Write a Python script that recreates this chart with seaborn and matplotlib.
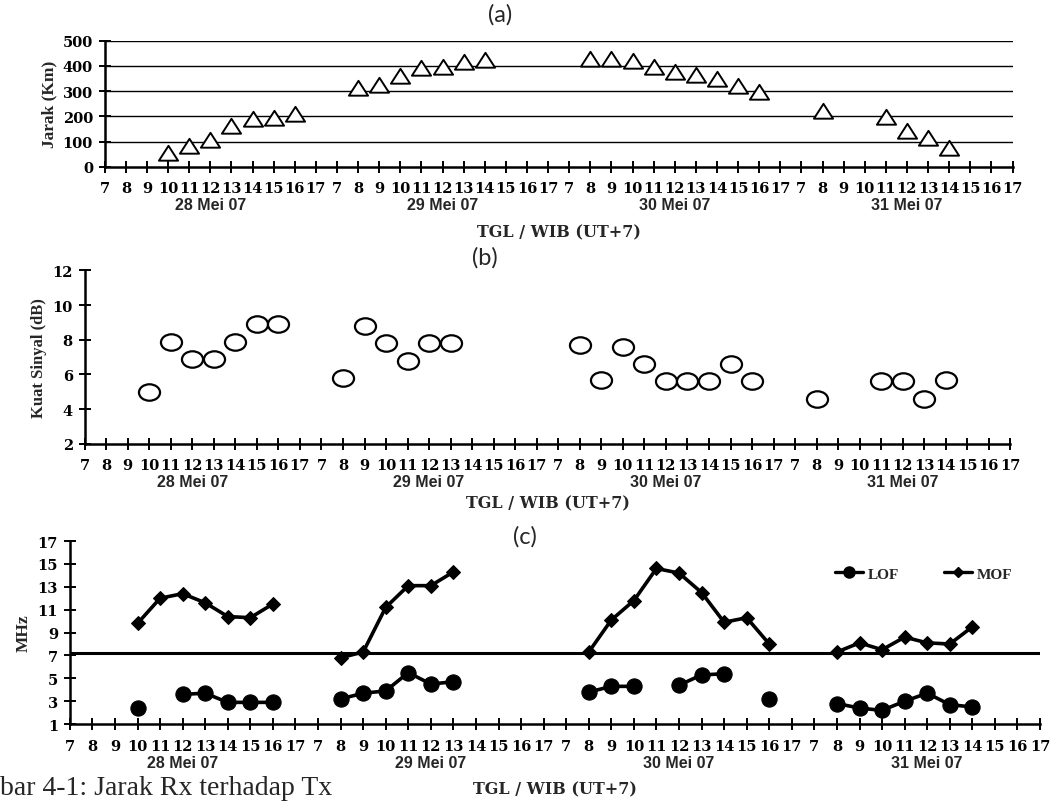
import numpy as np
import pandas as pd
import matplotlib.pyplot as plt
from matplotlib.lines import Line2D
from matplotlib.path import Path
import seaborn as sns

# Sumbu waktu: jam 7..17 untuk tiap tanggal
JAM = list(range(7, 18))
TANGGAL = ['28 Mei 07', '29 Mei 07', '30 Mei 07', '31 Mei 07']

# (a) Jarak (Km)
jarak_jam = [[10, 11, 12, 13, 14, 15, 16],
             [8, 9, 10, 11, 12, 13, 14],
             [8, 9, 10, 11, 12, 13, 14, 15, 16],
             [8, 11, 12, 13, 14]]
jarak_km = [[55, 84, 106, 161, 188, 195, 210],
            [311, 326, 360, 393, 395, 415, 424],
            [429, 426, 420, 397, 375, 363, 347, 322, 297],
            [223, 199, 143, 116, 75]]

# (b) Kuat sinyal (dB)
sinyal_jam = [[10, 11, 12, 13, 14, 15, 16],
              [8, 9, 10, 11, 12, 13],
              [8, 9, 10, 11, 12, 13, 14, 15, 16],
              [8, 11, 12, 13, 14]]
sinyal_db = [[5.0, 7.9, 6.9, 6.9, 7.9, 8.9, 8.9],
             [5.8, 8.8, 7.8, 6.8, 7.8, 7.8],
             [7.7, 5.7, 7.6, 6.6, 5.6, 5.6, 5.6, 6.6, 5.6],
             [4.6, 5.6, 5.6, 4.6, 5.7]]

# (c) MOF dan LOF (MHz); tiap sub-list adalah satu ruas garis
mof_jam = [[10, 11, 12, 13, 14, 15, 16],
           [8, 9, 10, 11, 12, 13],
           [8, 9, 10, 11, 12, 13, 14, 15, 16],
           [8, 9, 10, 11, 12, 13, 14]]
mof_mhz = [[9.8, 12.0, 12.4, 11.6, 10.4, 10.3, 11.5],
           [6.8, 7.3, 11.2, 13.1, 13.1, 14.3],
           [7.3, 10.1, 11.8, 14.6, 14.2, 12.5, 9.9, 10.3, 8.0],
           [7.3, 8.1, 7.5, 8.6, 8.1, 8.0, 9.5]]

lof_hari = [0, 0, 1, 2, 2, 2, 3]
lof_jam = [[10], [12, 13, 14, 15, 16],
           [8, 9, 10, 11, 12, 13],
           [8, 9, 10], [12, 13, 14], [16],
           [8, 9, 10, 11, 12, 13, 14]]
lof_mhz = [[2.4], [3.6, 3.7, 2.9, 2.9, 2.9],
           [3.2, 3.7, 3.9, 5.5, 4.5, 4.7],
           [3.8, 4.3, 4.3], [4.4, 5.3, 5.4], [3.2],
           [2.8, 2.4, 2.2, 3.0, 3.7, 2.7, 2.5]]

batas_mhz = 7.2


def posisi(hari, jam):
    return hari * len(JAM) + jam - JAM[0]


def ke_frame(hari_list, jam_list, nilai_list):
    rows = []
    for seg, (h, jj, vv) in enumerate(zip(hari_list, jam_list, nilai_list)):
        for j, v in zip(jj, vv):
            rows.append({'x': posisi(h, j), 'nilai': v, 'seg': seg})
    return pd.DataFrame(rows)


df_jarak = ke_frame(range(4), jarak_jam, jarak_km)
df_sinyal = ke_frame(range(4), sinyal_jam, sinyal_db)
df_mof = ke_frame(range(4), mof_jam, mof_mhz)
df_lof = ke_frame(lof_hari, lof_jam, lof_mhz)

# penanda: segitiga lebar dan lingkaran agak pipih seperti aslinya
segitiga = Path([(-1.0, -0.75), (1.0, -0.75), (0.0, 0.8), (-1.0, -0.75)],
                [Path.MOVETO, Path.LINETO, Path.LINETO, Path.CLOSEPOLY])
lingkaran = Path.unit_circle()
elips = Path(lingkaran.vertices * np.array([1.0, 0.78]), lingkaran.codes)

sns.set_theme(style='white')
plt.rcParams['font.family'] = ['DejaVu Serif']

fig = plt.figure(figsize=(10.58, 8.03), dpi=100)
ax_a = fig.add_axes([0.099, 0.791, 0.858, 0.157])
ax_b = fig.add_axes([0.080, 0.446, 0.875, 0.216])
ax_c = fig.add_axes([0.066, 0.097, 0.917, 0.228])

n_ticks = len(JAM) * len(TANGGAL)


def gaya_sumbu(ax, ylim, yticks, ylabel, ylabel_size, xlabel_pad):
    ax.set_xlim(0, n_ticks - 1)
    ax.set_ylim(*ylim)
    ax.set_yticks(yticks)
    ax.set_xticks(range(n_ticks))
    ax.set_xticklabels([str(j) for j in JAM] * len(TANGGAL))
    sns.despine(ax=ax)
    for s in ['left', 'bottom']:
        ax.spines[s].set_color('black')
        ax.spines[s].set_linewidth(1.8)
    ax.tick_params(axis='both', direction='inout', length=9, width=1.4,
                   colors='black', left=True, bottom=True)
    ax.tick_params(axis='x', labelsize=10.5, pad=6)
    ax.tick_params(axis='y', labelsize=10.5, pad=4)
    for lbl in ax.get_xticklabels() + ax.get_yticklabels():
        lbl.set_fontweight('bold')
    for i, t in enumerate(TANGGAL):
        ax.annotate(t, xy=(posisi(i, 12), 0), xycoords=('data', 'axes fraction'),
                    xytext=(0, -22), textcoords='offset points',
                    ha='center', va='top', fontsize=11.5, fontweight='bold',
                    family='Liberation Sans')
    ax.set_xlabel('TGL / WIB (UT+7)', fontsize=11.5, fontweight='bold',
                  labelpad=xlabel_pad)
    ax.set_ylabel(ylabel, fontsize=ylabel_size, fontweight='bold',
                  family='Liberation Serif')


# (a)
for v in [100, 200, 300, 400, 500]:
    ax_a.axhline(v, color='black', lw=1.0, zorder=1)
sns.scatterplot(data=df_jarak, x='x', y='nilai', marker=segitiga, s=190,
                facecolor='white', edgecolor='black', linewidth=1.4,
                ax=ax_a, zorder=3, legend=False)
gaya_sumbu(ax_a, (0, 500), [0, 100, 200, 300, 400, 500], 'Jarak (Km)', 12.5, 20)

# (b)
sns.scatterplot(data=df_sinyal, x='x', y='nilai', marker=elips, s=230,
                facecolor='white', edgecolor='black', linewidth=1.6,
                ax=ax_b, zorder=3, legend=False)
gaya_sumbu(ax_b, (2, 12), [2, 4, 6, 8, 10, 12], 'Kuat Sinyal (dB)', 12, 16)

# (c)
ax_c.axhline(batas_mhz, color='black', lw=2.2, zorder=1)
sns.lineplot(data=df_lof, x='x', y='nilai', units='seg', estimator=None,
             color='black', lw=2.6, marker='o', markersize=11,
             markeredgecolor='black', ax=ax_c, zorder=3)
sns.lineplot(data=df_mof, x='x', y='nilai', units='seg', estimator=None,
             color='black', lw=2.6, marker='D', markersize=7,
             markeredgecolor='black', ax=ax_c, zorder=3)
gaya_sumbu(ax_c, (1, 17), list(range(1, 18, 2)), 'MHz', 12.5, 20)
handles = [Line2D([], [], color='black', lw=2.4, marker='o', markersize=8),
           Line2D([], [], color='black', lw=2.4, marker='D', markersize=5)]
ax_c.legend(handles, ['LOF', 'MOF'], ncol=2, frameon=False,
            loc='center', bbox_to_anchor=(0.88, 0.82),
            handlelength=1.8, handletextpad=0.3, columnspacing=3.0,
            prop={'family': 'Liberation Serif', 'weight': 'bold', 'size': 11})

# judul panel
for teks, x, y in [('(a)', 0.473, 0.982), ('(b)', 0.458, 0.679), ('(c)', 0.496, 0.331)]:
    fig.text(x, y, teks, ha='center', va='center', fontsize=17, family='Lato')

# keterangan gambar di pojok kiri bawah
fig.text(0.0, 0.003, 'bar 4-1: Jarak Rx terhadap Tx', ha='left',
         va='bottom', fontsize=20, family='Liberation Serif')

fig.savefig('out.png', dpi=100, facecolor='white')
